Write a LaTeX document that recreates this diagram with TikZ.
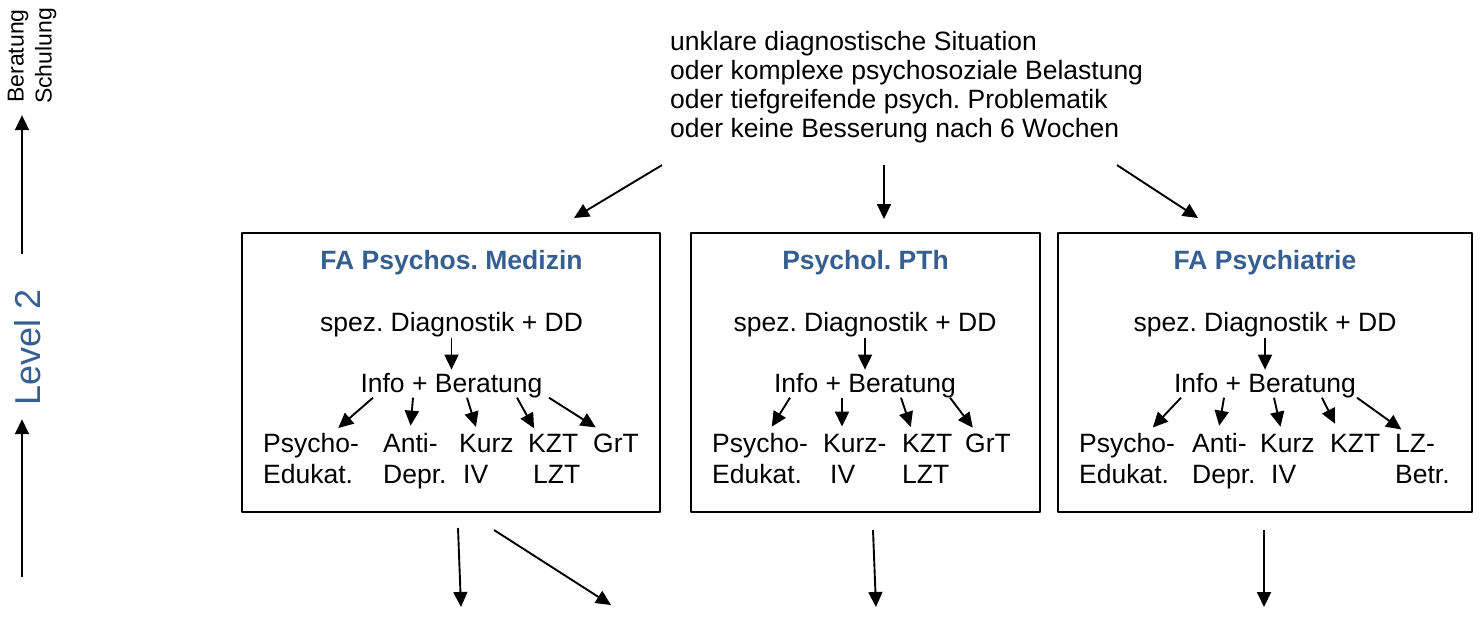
\documentclass[tikz,border=0pt]{standalone}
\usepackage{fontspec}
\setmainfont{Liberation Sans}
\usetikzlibrary{arrows.meta}
\definecolor{headblue}{HTML}{365F91}
\frenchspacing
\begin{document}
\begin{tikzpicture}[x=1pt, y=-1pt, line join=round,
  font=\fontsize{26.5}{29}\selectfont,
  every node/.style={inner sep=0pt},
  arr/.style={line width=1.9pt, -{Triangle[length=15pt,width=14pt]}},
  box/.style={draw, line width=2pt, minimum height=279pt},
  ttl/.style={anchor=base, text=headblue, font=\fontsize{26.5}{29}\selectfont\bfseries},
  lbl/.style={anchor=base},
  itm/.style={anchor=base west, align=left, font=\fontsize{26.5}{31}\selectfont}]
\useasboundingbox (0,0) rectangle (1480,616);
% side scale
\node[rotate=90, anchor=base, text=headblue, font=\fontsize{36}{40}\selectfont] (lvl) at (40,347) {Level 2};
\node[rotate=90, align=center, font=\fontsize{23}{28}\selectfont] (ber) at (32,56) {Beratung\\Schulung};
\coordinate (lvlfoot) at (22,577);
\draw[arr, shorten >=14pt] (lvlfoot) -- (lvlfoot |- lvl.west);
\draw[arr, shorten <=35pt, shorten >=11pt] (lvlfoot |- lvl.east) -- (lvlfoot |- ber.west);
% situation
\node[anchor=north west, align=left] (sit) at (670,31) {unklare diagnostische Situation\\oder komplexe psychosoziale Belastung\\oder tiefgreifende psych. Problematik\\oder keine Besserung nach 6 Wochen};
% boxes
\node[box, minimum width=418pt] (bxMed) at (451,372.5) {};
\node[box, minimum width=349pt] (bxPth) at (865.5,372.5) {};
\node[box, minimum width=414pt] (bxPsy) at (1265,372.5) {};
\draw[arr] ([shift={(-8,22)}]sit.south west) -- ([shift={(123,-14)}]bxMed.north);
\draw[arr] ([shift={(214,22)}]sit.south west) -- ([shift={(18.5,-13)}]bxPth.north);
\draw[arr] ([shift={(447,22)}]sit.south west) -- ([shift={(-67,-14)}]bxPsy.north);
% FA Psychos. Medizin
\node[ttl] (tMed) at (451.5,269) {FA Psychos. Medizin};
\node[lbl] (dMed) at (451.5,331) {spez. Diagnostik + DD};
\node[lbl] (iMed) at (451.5,392) {Info + Beratung};
\node[itm] (med1) at (263,483) {Psycho-\\Edukat.};
\node[itm] (med2) at (383,483) {Anti-\\Depr.};
\node[itm] (med3) at (459,483) {Kurz\\\hspace*{4pt}IV};
\node[itm] (med4) at (528,483) {KZT\\\hspace*{5pt}LZT};
\node[itm] (med5) at (593,452) {GrT};
\draw[arr, shorten <=1pt, shorten >=3pt] (dMed) -- (iMed);
\draw[arr, shorten >=7pt] ([xshift=-78.5pt]iMed.south) -- ([xshift=70pt]med1.north west);
\draw[arr, shorten >=7pt] ([xshift=-38.5pt]iMed.south) -- ([xshift=27pt]med2.north west);
\draw[arr, shorten >=7pt] ([xshift=15.5pt]iMed.south) -- ([xshift=19pt]med3.north west);
\draw[arr, shorten >=6pt] ([xshift=65.5pt]iMed.south) -- ([xshift=9pt]med4.north west);
\draw[arr, shorten >=11pt] ([xshift=97.5pt]iMed.south) -- ([xshift=12pt]med5.north west);
% Psychol. PTh
\node[ttl] (tPth) at (865.5,269) {Psychol. PTh};
\node[lbl] (dPth) at (865,331) {spez. Diagnostik + DD};
\node[lbl] (iPth) at (865,392) {Info + Beratung};
\node[itm] (pth1) at (712,483) {Psycho-\\Edukat.};
\node[itm] (pth2) at (823,483) {Kurz-\\\hspace*{7pt}IV};
\node[itm] (pth3) at (902,483) {KZT\\LZT};
\node[itm] (pth4) at (965,452) {GrT};
\draw[arr, shorten <=1pt, shorten >=3pt] (dPth) -- (iPth);
\draw[arr, shorten >=7pt] ([xshift=-75pt]iPth.south) -- ([xshift=56pt]pth1.north west);
\draw[arr, shorten >=7pt] ([xshift=-23pt]iPth.south) -- ([xshift=19pt]pth2.north west);
\draw[arr, shorten >=7pt] ([xshift=36pt]iPth.south) -- ([xshift=11pt]pth3.north west);
\draw[arr, shorten >=7pt] ([xshift=85pt]iPth.south) -- ([xshift=12pt]pth4.north west);
% FA Psychiatrie
\node[ttl] (tPsy) at (1265,269) {FA Psychiatrie};
\node[lbl] (dPsy) at (1265,331) {spez. Diagnostik + DD};
\node[lbl] (iPsy) at (1265,392) {Info + Beratung};
\node[itm] (psy1) at (1079,483) {Psycho-\\Edukat.};
\node[itm] (psy2) at (1192,483) {Anti-\\Depr.};
\node[itm] (psy3) at (1260,483) {Kurz\\\hspace*{11pt}IV};
\node[itm] (psy4) at (1330,452) {KZT};
\node[itm] (psy5) at (1395,483) {LZ-\\Betr.};
\draw[arr, shorten <=1pt, shorten >=3pt] (dPsy) -- (iPsy);
\draw[arr, shorten >=7pt] ([xshift=-84pt]iPsy.south) -- ([xshift=69pt]psy1.north west);
\draw[arr, shorten >=7pt] ([xshift=-41pt]iPsy.south) -- ([xshift=26pt]psy2.north west);
\draw[arr, shorten >=7pt] ([xshift=9pt]iPsy.south) -- ([xshift=22pt]psy3.north west);
\draw[arr, shorten >=11pt] ([xshift=57pt]iPsy.south) -- ([xshift=10pt]psy4.north west);
\draw[arr, shorten >=7pt] ([xshift=92pt]iPsy.south) -- ([xshift=12pt]psy5.north west);
% onward
\coordinate (out1) at (461,607);
\coordinate (out2) at (611,605);
\coordinate (out3) at (876,607);
\coordinate (out4) at (1264,607);
\draw[arr] ([shift={(7,15)}]bxMed.south) -- (out1);
\draw[arr] ([shift={(43,17)}]bxMed.south) -- (out2);
\draw[arr] ([shift={(7.5,17)}]bxPth.south) -- (out3);
\draw[arr] ([shift={(-1,17)}]bxPsy.south) -- (out4);
\end{tikzpicture}
\end{document}
